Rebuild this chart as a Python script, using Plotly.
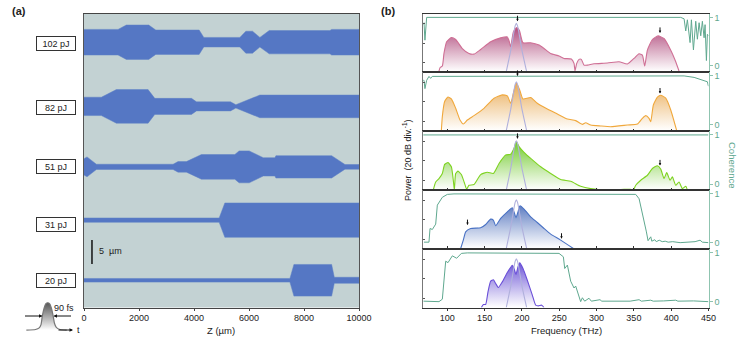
"""Filament propagation maps and output spectra for five pulse energies."""

from __future__ import annotations

import plotly.graph_objects as go

W, H = 748, 340
FONT = "Liberation Sans, Arial, sans-serif"
TEAL = "#5fa88f"
TEAL_AXIS = "#8fc4b0"

# panel (a): beam half-width (um) against propagation distance (um)
ENERGIES = ["102 pJ", "82 pJ", "51 pJ", "31 pJ", "20 pJ"]
BEAM_CENTER = [55.27, 41.9, 29.3, 18.2, 5.67]
Z_102 = [0, 1238, 1540, 2354, 2609, 4187, 4357, 5667, 5886, 6128, 6396, 6735, 8944, 9005, 10000]
HW_102 = [2.67, 2.67, 3.58, 3.58, 2.54, 2.54, 1.0, 1.0, 2.29, 2.29, 1.0, 2.43, 2.43, 2.67, 2.67]
Z_82 = [0, 631, 1177, 2330, 2573, 3908, 4090, 5328, 5522, 6396, 10000]
HW_82 = [1.91, 1.91, 3.5, 3.5, 1.67, 1.67, 0.94, 0.94, 0.35, 2.36, 2.36]
Z_51 = [0, 110, 450, 3240, 3420, 3725, 4270, 5485, 5640, 6007, 6517, 6942, 6978, 9005, 9490, 10000]
HW_51 = [1.7, 2.08, 0.55, 0.55, 1.1, 1.1, 2.57, 2.57, 3.33, 3.33, 1.91, 1.91, 2.33, 2.33, 0.49, 0.49]
Z_31 = [0, 4915, 5121, 10000]
HW_31 = [0.45, 0.45, 3.58, 3.58]
Z_20 = [0, 7488, 7633, 9005, 9102, 10000]
HW_20 = [0.38, 0.38, 3.3, 3.3, 0.63, 0.63]
BEAM_Z = [Z_102, Z_82, Z_51, Z_31, Z_20]
BEAM_HW = [HW_102, HW_82, HW_51, HW_31, HW_20]
SCALE_Z = [290, 290]
SCALE_Y = [9.06, 14.06]

# inset pulse: time (fs), normalised amplitude
PULSE_T = [-175, -100, -70, -55, -45, -30, -15, 0, 15, 30, 45, 55, 70, 100, 155]
PULSE_A = [0, 0.02, 0.08, 0.2, 0.5, 0.8, 0.97, 1, 0.97, 0.8, 0.5, 0.25, 0.1, 0.02, 0]

# panel (b): input spectrum, same in every row
INPUT_F = [179, 185, 189, 191, 192.5, 194, 196, 200, 206.3]
INPUT_P = [0, 22, 40, 47.5, 50, 47.5, 40, 22, 0]

F_102 = [88.8, 90.2, 93.3, 95.5, 99.1, 105.4, 111.2, 120.1, 129, 135.7, 144.7, 158.1, 171.5, 180.4, 183.1, 184.9, 188.5, 192.9, 196.5, 201.4, 211.7, 222.9, 229.6, 238.5, 249.7, 256.4, 266.2, 269.8, 271.1, 273.4, 276.5, 279.6, 283.2, 287.7, 296.6, 314.5, 330.1, 341.3, 350.2, 356.9, 361.4, 364.5, 368.1, 374.8, 382.4, 390.4, 399.4, 406.1, 410.5]
P_102 = [0.7, 4.1, 5.8, 18.8, 30.8, 35.2, 33.2, 23.9, 18.8, 18.1, 22.9, 30.8, 34.9, 35.9, 30.8, 25.7, 41, 45.5, 42.8, 29.8, 29.8, 27.4, 23.9, 18.8, 16.1, 13.7, 13, 8.6, 0.7, 8.6, 12.7, 12.7, 6.8, 6.8, 8.2, 8.9, 10.3, 7.9, 13.7, 18.5, 17.1, 5.8, 22.2, 33.2, 36.9, 34.2, 22.2, 10.3, 0.7]
F_82 = [92, 93.3, 96.4, 100.9, 105.4, 111.2, 117, 121.4, 126.8, 135.7, 149.2, 162.6, 173.7, 180.4, 184.9, 188.5, 192.5, 197, 201.4, 211.7, 220.6, 234, 247.5, 260.9, 272, 281, 285.4, 292.1, 305.5, 318.9, 341.3, 354.7, 361.4, 365.9, 370.3, 372.6, 376.1, 381.5, 386, 392.7, 399.4, 407.4]
P_82 = [0, 14.4, 29.8, 34.5, 32.5, 22.9, 10.9, 6.8, 10.9, 15.4, 22.9, 33.2, 36.6, 35.6, 28, 38.3, 48.6, 41.7, 32.5, 33.9, 28, 22.2, 17.1, 12, 10.3, 6.5, 8.2, 5.8, 4.8, 4.1, 5.8, 6.8, 12.7, 15.4, 12.7, 9.2, 26.3, 34.2, 36.3, 33.2, 21.2, 0]
F_51 = [81.2, 84.4, 88.8, 93.3, 96.4, 100.9, 105.4, 108, 109.4, 111.2, 114.3, 118.8, 123.2, 125.9, 129, 135.7, 144.7, 153.6, 161.7, 169.3, 178.2, 184.9, 189.4, 192.5, 196.1, 202.8, 211.7, 225.1, 238.5, 251.9, 265.3, 278.7, 292.1, 314.5, 336.8, 344.9, 349.3, 352.5, 359.2, 368.1, 374.8, 381.5, 386, 390.4, 394, 398.5, 401.6, 406.1, 410.5, 415, 419.5, 421.7]
P_51 = [0, 8.2, 11.6, 16.8, 26, 28, 23.6, 9.9, 0, 16.8, 19.2, 15.7, 6.5, 0.7, 4.8, 5.5, 15.7, 18.1, 16.8, 27, 35.6, 36.3, 42.4, 49.2, 44.1, 38.3, 32.1, 23.6, 16.8, 10.6, 8.9, 3.8, 1.4, 0, 0.7, 0.7, 0, 4.8, 9.9, 15, 21.9, 24.6, 21.2, 11.6, 17.8, 9.9, 13.3, 4.8, 8.2, 1.4, 3.8, 0]
F_31 = [117.9, 121.4, 124.6, 131.3, 144.7, 151.4, 158.1, 161.7, 164.8, 171.5, 180.4, 187.1, 189.4, 192, 194.7, 197.4, 202.8, 211.7, 220.6, 229.6, 238.5, 251.9, 268.9]
P_31 = [0, 8.6, 17.1, 20.5, 21.2, 24.6, 30.1, 29.1, 23.3, 30.8, 37.6, 41.7, 37.6, 31.5, 37.6, 43.8, 40.4, 32.5, 26.7, 20.5, 14.7, 8.6, 0]
F_20 = [145.6, 148.3, 151.4, 154.5, 158.1, 161.7, 164.8, 168.4, 173.7, 180.4, 187.1, 189.4, 192, 194.7, 197, 201.4, 207.2, 213.9, 218.4, 222, 226.5, 229.6]
P_20 = [0, 3.1, 3.1, 16.1, 27, 28.4, 24.6, 20.5, 26.3, 35.9, 43.4, 40, 33.9, 41.7, 45.8, 40, 28, 12.7, 2.4, 1.7, 2.4, 0]
SPEC_F = [F_102, F_82, F_51, F_31, F_20]
SPEC_P = [P_102, P_82, P_51, P_31, P_20]

CF_102 = [67.4, 68.7, 70, 72.3, 412.8, 417.3, 419.5, 421.7, 425.3, 427.1, 429.8, 432.9, 435.1, 437.4, 439.6, 441.8, 444.1, 445.4, 447.2, 448.5, 449.9]
C_102 = [0.85, 0.89, 0.53, 1, 1, 0.97, 0.72, 0.95, 0.48, 0.95, 0.33, 0.92, 0.55, 0.89, 0.62, 0.92, 0.58, 0.85, 0.11, 0.65, 0.62]
CF_82 = [67.4, 68.7, 70, 72.3, 75.4, 77.6, 79.8, 84.4, 91, 417.3, 430.7, 441.9, 448.5, 449.9]
C_82 = [0.91, 0.91, 0.74, 0.91, 0.99, 0.95, 0.99, 0.99, 1, 1, 0.97, 0.91, 0.88, 0.79]
CF_51 = [67.4, 449.9]
C_51 = [1, 1]
CF_31 = [68.7, 75.4, 76.8, 79.9, 84.4, 86.6, 93.3, 100, 108.9, 314.5, 336.8, 352.5, 357, 361.4, 364.5, 366.8, 369, 372.6, 374, 378, 380, 384, 388, 392, 396, 402, 412, 425, 432, 438.7, 441.8, 449.9]
C_31 = [0.01, 0.01, 0.29, 0.27, 0.38, 0.77, 0.93, 0.99, 1, 0.99, 0.98, 0.99, 0.9, 0.61, 0.35, 0.22, 0.04, 0.12, 0.03, 0.06, 0.02, 0.05, 0.02, 0.03, 0.01, 0.02, 0, 0.01, 0.02, 0.05, 0.01, 0]
CF_20 = [67.8, 88.8, 93.3, 95.5, 97.8, 100.9, 106.7, 112.5, 118.8, 126.8, 243, 249.7, 255.5, 257.3, 260.9, 265.3, 269.8, 272, 278.7, 281, 284.1, 289.9, 293, 298, 304.6, 307, 314.5, 330, 345, 357, 360, 372.6, 376, 390, 406.1, 409, 430, 449.9]
C_20 = [0.01, 0, 0.05, 0.42, 0.83, 0.8, 0.94, 0.89, 0.99, 1, 1, 0.99, 0.92, 0.68, 0.75, 0.42, 0.28, 0.32, 0, 0.08, 0.01, 0.07, 0.01, 0.02, 0.04, 0.01, 0.01, 0.015, 0.01, 0.04, 0.01, 0.03, 0.01, 0.015, 0.03, 0.01, 0.015, 0]
COH_F = [CF_102, CF_82, CF_51, CF_31, CF_20]
COH = [C_102, C_82, C_51, C_31, C_20]

SPEC_LINE = ["#cf6f95", "#f0a83c", "#7ed321", "#4a72c4", "#6a4fd8"]
SPEC_FILL = ["rgb(168,58,112)", "rgb(232,168,80)", "rgb(110,200,40)", "rgb(70,105,185)", "rgb(95,70,210)"]
# arrows on the spectra: row, frequency, power at the tip
MARK_ROW = [0, 0, 1, 1, 2, 2, 3, 3]
MARK_F = [194, 385, 194, 385, 194, 385, 127, 253]
MARK_P = [52, 40, 56, 38, 52, 25, 24, 10]
X_TICKS = [100, 150, 200, 250, 300, 350, 400, 450]
PANEL_TOPS = [13.5, 72, 131, 190, 249]
PANEL_BOTTOMS = [71.7, 130.7, 190, 248.5, 307.5]


def px(x: float) -> float:
    return x / W


def py(y: float) -> float:
    return 1 - y / H


def label(text: str, x: float, y: float, **kw) -> dict:
    size = kw.pop("size", 9)
    color = kw.pop("color", "#222222")
    return dict(
        text=text, x=px(x), y=py(y), xref="paper", yref="paper", showarrow=False,
        xanchor="center", yanchor="middle",
        font=dict(family=FONT, size=size, color=color), **kw,
    )


def arrow(x: float, y: float, ax: float, ay: float, size: float = 0.7) -> dict:
    return dict(
        x=px(x), y=py(y), xref="paper", yref="paper", ax=ax, ay=ay, text="", showarrow=True,
        arrowhead=2, arrowsize=size, arrowwidth=1, arrowcolor="#111111",
    )


fig = go.Figure()
layout: dict = {}
annotations: list[dict] = []

# panel (a)
for z, hw, c in zip(BEAM_Z, BEAM_HW, BEAM_CENTER):
    fig.add_trace(
        go.Scatter(
            x=z + z[::-1],
            y=[c + h for h in hw] + [c - h for h in hw[::-1]],
            mode="lines", fill="toself", fillcolor="#5577c4",
            line=dict(color="#5f80c6", width=0.5), xaxis="x", yaxis="y",
            showlegend=False, hoverinfo="skip",
        )
    )
fig.add_trace(
    go.Scatter(x=SCALE_Z, y=SCALE_Y, mode="lines", line=dict(color="#111111", width=1.5),
               xaxis="x", yaxis="y", showlegend=False, hoverinfo="skip")
)
layout["xaxis"] = dict(
    domain=[px(84), px(359)], range=[0, 10000], anchor="y", tickvals=[0, 2000, 4000, 6000, 8000, 10000],
    ticktext=["0", "2000", "4000", "6000", "8000", "10000"],
    ticks="outside", ticklen=2, tickcolor="#444444", showline=True, linecolor="#444444", linewidth=1.2,
    mirror=True, showgrid=False, zeroline=False, tickfont=dict(family=FONT, size=9, color="#222222"),
)
layout["yaxis"] = dict(
    domain=[py(307.5), py(13.5)], range=[0, 61.25], anchor="x", showticklabels=False, ticks="",
    showline=True, linecolor="#555555", linewidth=1.2, mirror=True, showgrid=False, zeroline=False,
)

# panel (b), one row per energy
for i in range(5):
    xname, yname = f"x{i + 2}", f"y{i + 2}"
    cname = f"y{i + 7}"
    fig.add_trace(
        go.Scatter(
            x=SPEC_F[i], y=SPEC_P[i], mode="lines", fill="tozeroy",
            fillgradient=dict(type="vertical", start=0, stop=50,
                              colorscale=[[0, "rgba(255,255,255,0.9)"], [1, SPEC_FILL[i]]]),
            line=dict(color=SPEC_LINE[i], width=1.1, shape="spline", smoothing=0.5),
            xaxis=xname, yaxis=yname, showlegend=False, hoverinfo="skip",
        )
    )
    fig.add_trace(
        go.Scatter(x=INPUT_F, y=INPUT_P, mode="lines",
                   line=dict(color="#b0b0dc", width=1.1, shape="spline", smoothing=0.4),
                   xaxis=xname, yaxis=yname, showlegend=False, hoverinfo="skip")
    )
    fig.add_trace(
        go.Scatter(x=COH_F[i], y=COH[i], mode="lines", line=dict(color=TEAL, width=1),
                   xaxis=xname, yaxis=cname, showlegend=False, hoverinfo="skip")
    )
    last = i == 4
    layout[f"xaxis{i + 2}"] = dict(
        domain=[px(423.3), px(708.5)], range=[67.8, 450], anchor=yname, tickvals=X_TICKS,
        ticks="outside" if last else "inside", ticklen=2, tickcolor="#333333",
        showticklabels=last, showline=True, linecolor="#333333", linewidth=1.3, mirror=True,
        showgrid=False, zeroline=False, tickfont=dict(family=FONT, size=9, color="#222222"),
    )
    domain = [py(PANEL_BOTTOMS[i]), py(PANEL_TOPS[i])]
    layout[f"yaxis{i + 2}"] = dict(
        domain=domain, range=[0, 60], anchor=xname, tickvals=[9.5, 29.5, 49.5], ticks="inside",
        ticklen=2, tickcolor="#555555", showticklabels=False, showline=True, linecolor="#777777",
        linewidth=1.3, showgrid=False, zeroline=False,
    )
    layout[f"yaxis{i + 7}"] = dict(
        domain=domain, range=[-0.12, 1.08], overlaying=yname, anchor=xname, side="right",
        tickvals=[0, 1], ticks="outside", ticklen=3, tickcolor=TEAL_AXIS, showline=True,
        linecolor=TEAL_AXIS, linewidth=1.3, showgrid=False, zeroline=False,
        tickfont=dict(family=FONT, size=9, color=TEAL),
    )
for row, f, p in zip(MARK_ROW, MARK_F, MARK_P):
    annotations.append(
        dict(x=f, y=p, xref=f"x{row + 2}", yref=f"y{row + 2}", ax=0, ay=-7, text="", showarrow=True,
             arrowhead=2, arrowsize=0.5, arrowwidth=1, arrowcolor="#111111")
    )

# inset pulse
fig.add_trace(
    go.Scatter(
        x=PULSE_T, y=PULSE_A, mode="lines", fill="tozeroy",
        fillgradient=dict(type="vertical", start=0, stop=1,
                          colorscale=[[0, "#ffffff"], [1, "#555555"]]),
        line=dict(color="#777777", width=1.2, shape="spline", smoothing=0.6),
        xaxis="x7", yaxis="y12", showlegend=False, hoverinfo="skip",
    )
)
layout["xaxis7"] = dict(domain=[px(20), px(80)], range=[-227, 264], anchor="y12", visible=False)
layout["yaxis12"] = dict(domain=[py(335), py(300)], range=[-0.18, 1.1], anchor="x7", visible=False)

# text
for name, y in zip(ENERGIES, [43.5, 107, 166.5, 224, 280]):
    annotations.append(
        label(name, 56, y, bordercolor="#333333", borderwidth=1, borderpad=0, bgcolor="#ffffff",
              width=38, height=13)
    )
annotations += [
    label("<b>(a)</b>", 19, 11, size=11),
    label("<b>(b)</b>", 388, 11, size=11),
    label("5  µm", 110, 251),
    label("Z (µm)", 221, 330, size=9.5),
    label("Frequency (THz)", 566, 330, size=9.5),
    label("90 fs", 64, 308),
    label("t", 78, 330),
    label("Power  (20 dB div.<sup>-1</sup>)", 407, 160, textangle=-90),
    label("Coherence", 733, 165, textangle=90, color=TEAL, size=9.5),
    arrow(42.5, 316, -19, 0),
    arrow(53.5, 316, 19, 0),
    arrow(73, 330, -16, 0),
]

fig.update_layout(
    width=W, height=H, margin=dict(l=0, r=0, t=0, b=0, autoexpand=False), autosize=False,
    paper_bgcolor="#ffffff", plot_bgcolor="rgba(0,0,0,0)",
    shapes=[dict(type="rect", xref="x domain", yref="y domain", x0=0, x1=1, y0=0, y1=1,
                 fillcolor="#c3d2d3", line_width=0, layer="below")],
    annotations=annotations, **layout,
)

fig.write_html("out.html", config={"displayModeBar": False}, post_script="document.body.style.margin='0';")
